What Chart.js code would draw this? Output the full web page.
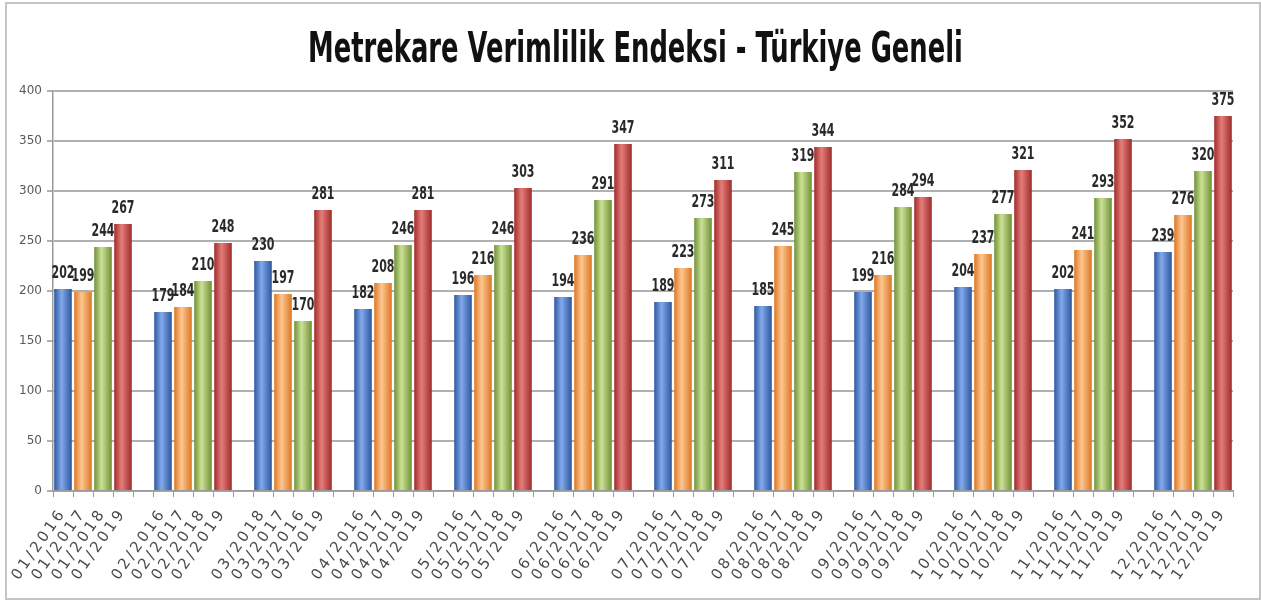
<!DOCTYPE html>
<html>
<head>
<meta charset="utf-8">
<script src="https://cdn.jsdelivr.net/npm/chart.js@4.4.1/dist/chart.umd.min.js"></script>
<style>
  html, body { margin: 0; padding: 0; background: #fff; }
  #wrap { position: relative; width: 1261px; height: 602px; overflow: hidden; }
  #frame { position: absolute; left: 5px; top: 2px; width: 1252px; height: 594px; border: 2px solid #c4c4c4; }
  #chart { position: absolute; left: 0; top: 0; }
  #title {
    position: absolute; left: 308px; top: 26px;
    display: inline-block; white-space: nowrap;
    font: bold 43px 'DejaVu Sans Condensed', 'DejaVu Sans', sans-serif;
    line-height: 1; color: #111;
    transform-origin: 0 0;
  }
</style>
</head>
<body>
<div id="wrap">
  <div id="frame"></div>
  <canvas id="chart" width="1261" height="602"></canvas>
  <div id="title">Metrekare Verimlilik Endeksi - Türkiye Geneli</div>
</div>
<script>
const months = ['01', '02', '03', '04', '05', '06', '07', '08', '09', '10', '11', '12'];
const years = ['2016', '2017', '2018', '2019'];

const values2016 = [202, 179, 230, 182, 196, 194, 189, 185, 199, 204, 202, 239];
const values2017 = [199, 184, 197, 208, 216, 236, 223, 245, 216, 237, 241, 276];
const values2018 = [244, 210, 170, 246, 246, 291, 273, 319, 284, 277, 293, 320];
const values2019 = [267, 248, 281, 281, 303, 347, 311, 344, 294, 321, 352, 375];

// labels under each bar, as they are printed (a few are swapped or repeated)
const barLabels = [
  '01/2016', '01/2017', '01/2018', '01/2019',
  '02/2016', '02/2017', '02/2018', '02/2019',
  '03/2018', '03/2017', '03/2016', '03/2019',
  '04/2016', '04/2017', '04/2019', '04/2019',
  '05/2016', '05/2017', '05/2018', '05/2019',
  '06/2016', '06/2017', '06/2018', '06/2019',
  '07/2016', '07/2017', '07/2018', '07/2019',
  '08/2016', '08/2017', '08/2018', '08/2019',
  '09/2016', '09/2017', '09/2018', '09/2019',
  '10/2016', '10/2017', '10/2018', '10/2019',
  '11/2016', '11/2017', '11/2019', '11/2019',
  '12/2016', '12/2017', '12/2019', '12/2019'
];

const yTicks = [0, 50, 100, 150, 200, 250, 300, 350, 400];

const seriesColors = [
  { dark: '#2b559e', light: '#82a9ea', mid: '#4677cc' },
  { dark: '#dc7420', light: '#fdc792', mid: '#f79646' },
  { dark: '#6f8f33', light: '#cbe197', mid: '#9bbb59' },
  { dark: '#9e2a28', light: '#e47d7a', mid: '#c0504d' }
];

// one slot per bar, one empty slot between months
const series = [values2016, values2017, values2018, values2019];
const labels = [];
const seriesData = series.map(() => []);

months.forEach((m, i) => {
  if (i > 0) {
    labels.push('');
    seriesData.forEach(d => d.push(null));
  }
  series.forEach((vals, s) => {
    labels.push(barLabels[i * 4 + s]);
    seriesData.forEach((d, k) => d.push(k === s ? vals[i] : null));
  });
});

function cylinder(c) {
  return function (ctx) {
    const xScale = ctx.chart.scales.x;
    if (!xScale || ctx.type !== 'data') return c.mid;
    const cx = xScale.getPixelForValue(ctx.dataIndex);
    if (!isFinite(cx)) return c.mid;
    const g = ctx.chart.ctx.createLinearGradient(cx - 9, 0, cx + 9, 0);
    g.addColorStop(0, c.dark);
    g.addColorStop(0.42, c.light);
    g.addColorStop(1, c.dark);
    return g;
  };
}

const barValueLabels = {
  id: 'barValueLabels',
  beforeDraw(chart) {
    chart.ctx.letterSpacing = '0px';
  },
  afterDatasetsDraw(chart) {
    const ctx = chart.ctx;
    ctx.save();
    ctx.font = "bold 17px 'DejaVu Sans Condensed', 'DejaVu Sans'";
    ctx.fillStyle = '#2a2a2a';
    ctx.textAlign = 'center';
    ctx.textBaseline = 'alphabetic';
    chart.data.datasets.forEach((ds, i) => {
      chart.getDatasetMeta(i).data.forEach((bar, j) => {
        const v = ds.data[j];
        if (v == null) return;
        ctx.save();
        ctx.translate(bar.x, bar.y - 11);
        ctx.scale(0.72, 1);
        ctx.fillText(String(v), 0, 0);
        ctx.restore();
      });
    });
    ctx.restore();
    // x tick labels are drawn after this (ticks.z = 1), spaced out like the original
    ctx.letterSpacing = '3px';
  },
  afterDraw(chart) {
    chart.ctx.letterSpacing = '0px';
  }
};

new Chart(document.getElementById('chart'), {
  type: 'bar',
  data: {
    labels: labels,
    datasets: years.map((y, s) => ({
      label: y,
      data: seriesData[s],
      backgroundColor: cylinder(seriesColors[s]),
      borderWidth: 0,
      barPercentage: 0.88,
      categoryPercentage: 1,
      grouped: false
    }))
  },
  options: {
    responsive: false,
    animation: false,
    layout: { padding: { left: 5, right: 28, top: 91, bottom: 0 } },
    plugins: {
      legend: { display: false },
      tooltip: { enabled: false },
      title: { display: false }
    },
    scales: {
      x: {
        offset: true,
        afterFit(scale) { scale.height = 111; },
        grid: {
          offset: true,
          drawOnChartArea: false,
          drawTicks: true,
          tickLength: 6,
          color: '#9a9a9a',
          lineWidth: 1
        },
        border: { display: true, color: '#9a9a9a', width: 1.5 },
        ticks: {
          autoSkip: false,
          minRotation: 55,
          maxRotation: 55,
          padding: 8,
          z: 1,
          color: '#4a4a4a',
          font: { family: "'DejaVu Sans'", size: 15 }
        }
      },
      y: {
        min: 0,
        max: 400,
        afterFit(scale) { scale.width = 48; },
        afterBuildTicks(scale) { scale.ticks = yTicks.map(v => ({ value: v })); },
        grid: {
          color: '#b0b0b0',
          lineWidth: 2,
          drawTicks: true,
          tickLength: 6
        },
        border: { display: true, color: '#9a9a9a', width: 1.5 },
        ticks: {
          padding: 5,
          color: '#595959',
          font: { family: "'DejaVu Sans'", size: 12 }
        }
      }
    }
  },
  plugins: [barValueLabels]
});

// squeeze the title to the narrow width it has in the original
const title = document.getElementById('title');
title.style.transform = 'scaleX(' + (655 / title.offsetWidth) + ')';
</script>
</body>
</html>
